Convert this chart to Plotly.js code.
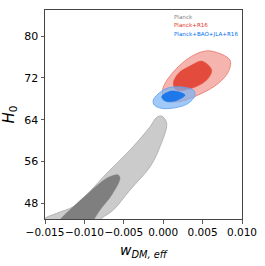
<!DOCTYPE html>
<html><head><meta charset="utf-8">
<script src="https://cdn.plot.ly/plotly-3.0.1.min.js"></script>
<style>html,body{margin:0;padding:0;background:#fff}#chart{width:265px;height:266px}</style>
</head><body><div id="chart"></div>
<script>
// Contour outlines (w_DM,eff , H0)
const planckOuterX = [-0.00019, 0.00044, -0.00041, -0.00167, -0.00421, -0.00633, -0.00780, -0.00865, -0.01563, -0.01500, -0.01352, -0.01141, -0.01014, -0.00717, -0.00421, -0.00167, -0.00083, -0.00019];
const planckOuterY = [64.70, 63.30, 58.83, 55.00, 50.55, 46.72, 45.14, 43.86, 43.86, 45.14, 46.09, 47.35, 48.96, 53.74, 58.20, 62.65, 64.45, 64.70];
const planckInnerX = [-0.00570, -0.00548, -0.00654, -0.00802, -0.00880, -0.00920, -0.01335, -0.01310, -0.01141, -0.00929, -0.00717, -0.00612, -0.00570];
const planckInnerY = [53.42, 52.79, 49.59, 46.72, 44.90, 43.86, 43.86, 44.81, 47.35, 50.22, 52.79, 53.42, 53.42];
const r16OuterX = [0.00615, 0.00848, 0.00826, 0.00699, 0.00489, 0.00192, 0.00023, -0.00011, 0.00023, 0.00150, 0.00318, 0.00489, 0.00615];
const r16OuterY = [77.13, 75.41, 73.17, 70.95, 69.04, 67.44, 67.76, 69.35, 70.95, 73.50, 75.74, 77.00, 77.13];
const r16InnerX = [0.00489, 0.00615, 0.00552, 0.00362, 0.00171, 0.00128, 0.00192, 0.00362, 0.00489];
const r16InnerY = [75.22, 73.50, 71.59, 70.00, 69.67, 70.95, 72.87, 74.45, 75.22];
const baoOuterX = [-0.00126, 0.00023, 0.00192, 0.00382, 0.00404, 0.00318, 0.00150, -0.00019, -0.00113, -0.00126];
const baoOuterY = [67.76, 69.86, 70.30, 69.67, 68.72, 67.13, 66.29, 66.17, 66.80, 67.76];
const baoInnerX = [-0.00019, 0.00108, 0.00277, 0.00150, 0.00023, -0.00019];
const baoInnerY = [68.39, 69.48, 68.72, 67.57, 67.57, 68.39];

const xTicks = [-0.015, -0.010, -0.005, 0.000, 0.005, 0.010];
const yTicks = [48, 56, 64, 72, 80];
const legendLabels = ["Planck", "Planck+R16", "Planck+BAO+JLA+R16"];

function region(x, y, fill, line, lw, op) {
  return {x: x, y: y, type: 'scatter', mode: 'lines', fill: 'toself', fillcolor: fill,
    line: {color: line, width: lw, shape: 'spline', smoothing: 1}, opacity: op, hoverinfo: 'skip', showlegend: false};
}
const data = [
  region(planckOuterX, planckOuterY, '#cbcbcb', '#a8a8a8', 0.8, 1),
  region(planckInnerX, planckInnerY, '#7f7f7f', '#7f7f7f', 0.5, 1),
  region(r16OuterX, r16OuterY, '#f5b4ad', '#e8766b', 0.8, 1),
  region(r16InnerX, r16InnerY, '#e34c3c', '#e34c3c', 0.5, 1),
  region(baoOuterX, baoOuterY, 'rgba(120,178,245,0.7)', '#5a9ff0', 0.8, 1),
  region(baoInnerX, baoInnerY, 'rgba(0,105,235,0.8)', 'rgba(0,105,235,0.8)', 0.5, 1)
];
const legendColors = ['#808080', '#e03424', '#006fed'];
const legendY = [0.966, 0.926, 0.884];
const annotations = legendLabels.map((t, i) => ({
  text: t, xref: 'paper', yref: 'paper', x: 0.643, y: legendY[i], xanchor: 'left', yanchor: 'middle',
  showarrow: false, font: {size: 5.6, color: legendColors[i], family: 'DejaVu Sans'}
}));
const layout = {
  width: 265, height: 266, margin: {l: 45, r: 23, t: 10, b: 47},
  paper_bgcolor: '#fff', plot_bgcolor: '#fff', showlegend: false,
  font: {family: 'DejaVu Sans', color: '#000'},
  xaxis: {range: [-0.0150001, 0.0100001], tickvals: xTicks, tickformat: '.3f', tickangle: 0, ticks: 'outside', ticklen: 3.5, tickwidth: 0.8,
    tickcolor: '#333', showline: true, linecolor: '#444', linewidth: 1, mirror: true, showgrid: false, zeroline: false,
    tickfont: {size: 10.5}, title: {text: '<i>w</i><sub><i>DM, eff</i></sub>', font: {size: 14}, standoff: 8}},
  yaxis: {range: [45, 85], tickvals: yTicks, ticks: 'outside', ticklen: 3.5, tickwidth: 0.8,
    tickcolor: '#333', showline: true, linecolor: '#444', linewidth: 1, mirror: true, showgrid: false, zeroline: false,
    tickfont: {size: 11}, title: {text: '<i>H</i><sub>0</sub>', font: {size: 15}, standoff: 6}},
  annotations: annotations
};
Plotly.newPlot('chart', data, layout, {displayModeBar: false, staticPlot: true});
</script></body></html>
